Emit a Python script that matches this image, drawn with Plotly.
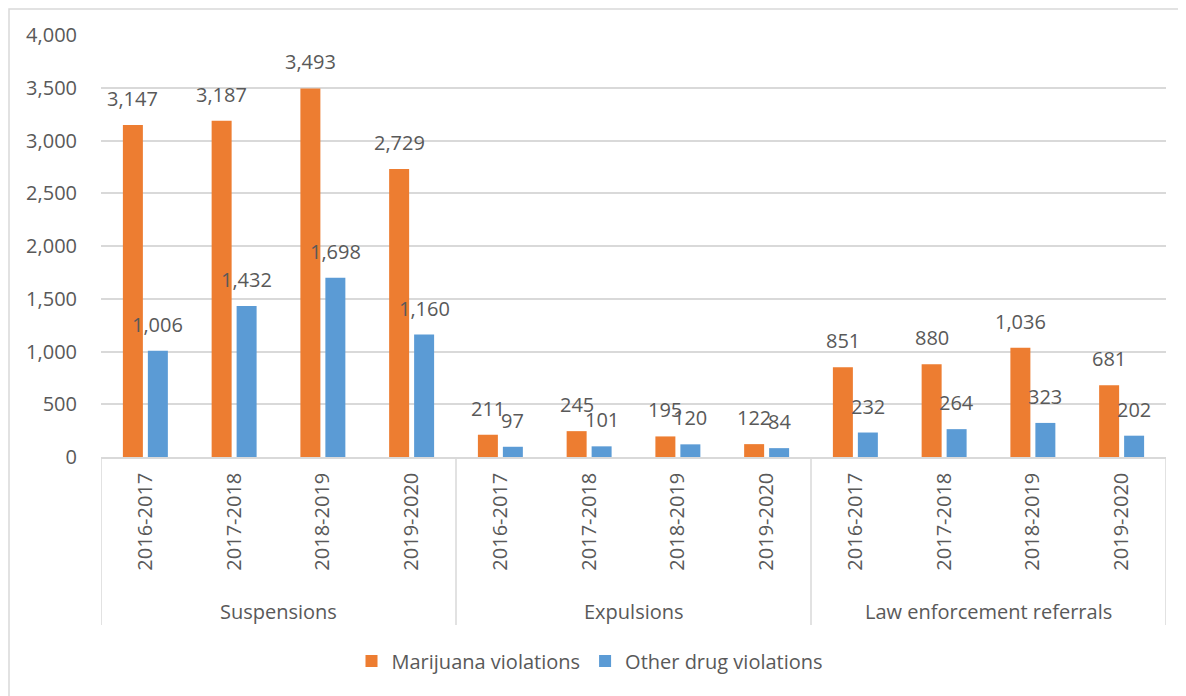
import plotly.graph_objects as go

groups = ["Suspensions", "Expulsions", "Law enforcement referrals"]
years = ["2016-2017", "2017-2018", "2018-2019", "2019-2020"]
marijuana = [3147, 3187, 3493, 2729, 211, 245, 195, 122, 851, 880, 1036, 681]
other = [1006, 1432, 1698, 1160, 97, 101, 120, 84, 232, 264, 323, 202]
series_names = ["Marijuana violations", "Other drug violations"]
colors = ["#ED7D31", "#5B9BD5"]

# page is drawn with an 8px body margin; figure coordinates = page - 8
OFF = 8
W, H = 1186, 696
L, T = 101 - OFF, 35 - OFF
R = W - (1166 - OFF)
B = H - (457 - OFF)
pw, ph = W - L - R, H - T - B
FONT = "Open Sans"
TXT = "#595959"
GRID = "#D9D9D9"

n = len(marijuana)
xs = list(range(n))
ticktext = [years[i % len(years)] for i in range(n)]

bargap = 0.437
slot = (1 - bargap) / 2

fig = go.Figure()
for name, vals, col in zip(series_names, [marijuana, other], colors):
    fig.add_trace(go.Bar(x=xs, y=vals, name=name, marker=dict(color=col, line=dict(width=0))))

def py2paper(py):  # page pixel y -> paper
    return (457 - py) / ph

def px2paper(px):  # page pixel x -> paper
    return (px - 101) / pw

annotations = []
for k, vals in enumerate([marijuana, other]):
    off = -slot / 2 if k == 0 else slot / 2
    for i, v in enumerate(vals):
        annotations.append(dict(x=i + off, y=v, xref="x", yref="y", text=f"{v:,}",
                                showarrow=False, yanchor="bottom", yshift=11,
                                font=dict(family=FONT, size=20, color=TXT)))
for g, name in enumerate(groups):
    annotations.append(dict(x=g * 4 + 1.5, y=py2paper(611), xref="x", yref="paper", text=name,
                            showarrow=False, yanchor="middle",
                            font=dict(family=FONT, size=20, color=TXT)))

shapes = []
for b in [-0.5, 3.5, 7.5, 11.5]:
    shapes.append(dict(type="line", xref="x", yref="paper", x0=b, x1=b, y0=0, y1=py2paper(625),
                       line=dict(color=GRID, width=1.5)))
# outer chart frame (left and top edges visible; right/bottom beyond the picture)
shapes.append(dict(type="rect", xref="paper", yref="paper", x0=px2paper(9), x1=px2paper(1250),
                   y0=py2paper(760), y1=py2paper(9), line=dict(color=GRID, width=1.5),
                   fillcolor="rgba(0,0,0,0)", layer="below"))

fig.update_layout(
    width=W, height=H,
    margin=dict(l=L, r=R, t=T, b=B, pad=0, autoexpand=False),
    plot_bgcolor="white", paper_bgcolor="white",
    barmode="group", bargap=bargap, bargroupgap=0.2,
    font=dict(family=FONT, size=20, color=TXT),
    showlegend=True,
    legend=dict(orientation="h", x=px2paper(590), xanchor="center",
                y=py2paper(661), yanchor="middle", font=dict(family=FONT, size=20, color=TXT),
                traceorder="normal"),
    annotations=annotations,
    shapes=shapes,
)
fig.update_xaxes(range=[-0.5, n - 0.5], tickvals=xs, ticktext=ticktext, tickangle=-90,
                 showline=True, linecolor=GRID, linewidth=1.5, showgrid=False, zeroline=False,
                 ticks="", ticklabelstandoff=6, tickfont=dict(family=FONT, size=20, color=TXT),
                 fixedrange=True)
fig.update_yaxes(range=[0, 4000], dtick=500, tickformat=",", showgrid=True, gridcolor=GRID,
                 gridwidth=1.5, zeroline=False, showline=False, ticks="", ticklabelstandoff=23,
                 tickfont=dict(family=FONT, size=20, color=TXT), fixedrange=True)

fig.write_html("out.html")
